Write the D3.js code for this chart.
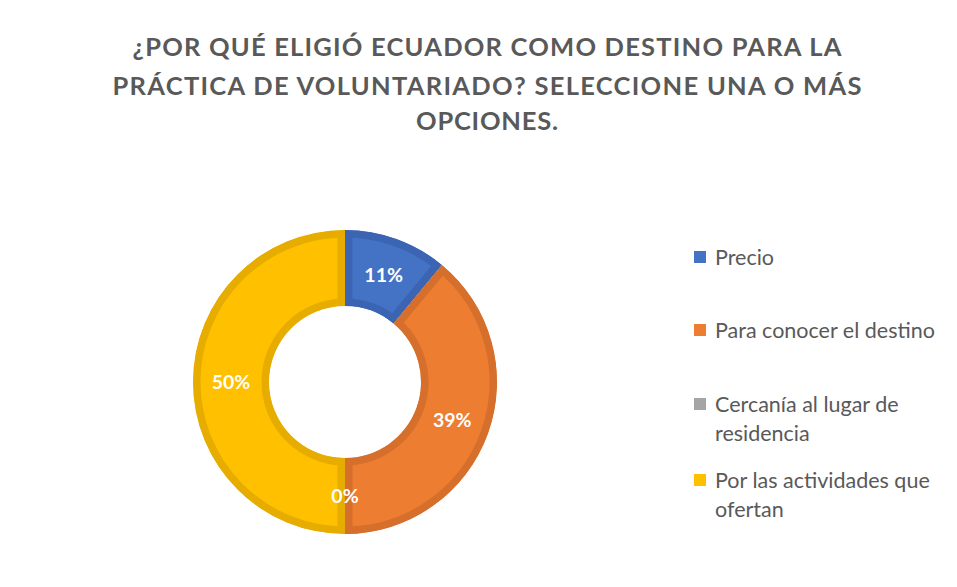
<!DOCTYPE html>
<html><head><meta charset="utf-8">
<script src="https://cdn.jsdelivr.net/npm/d3@7"></script>
<style>body{margin:0;background:#fff}svg{display:block}</style>
</head><body>
<svg id="c" width="957" height="587"></svg>
<script>
const titleLines = ["¿POR QUÉ ELIGIÓ ECUADOR COMO DESTINO PARA LA", "PRÁCTICA DE VOLUNTARIADO? SELECCIONE UNA O MÁS", "OPCIONES."];
const categories = ["Precio", "Para conocer el destino", "Cercanía al lugar de residencia", "Por las actividades que ofertan"];
const legendLines = [["Precio"], ["Para conocer el destino"], ["Cercanía al lugar de", "residencia"], ["Por las actividades que", "ofertan"]];
const values = [11, 39, 0, 50];
const labels = ["11%", "39%", "0%", "50%"];
const fills = ["#4472C4", "#ED7D31", "#A5A5A5", "#FFC000"];
const borders = ["#3B65B3", "#D56F2B", "#949494", "#E6AC00"];

const svg = d3.select("#c");
const W = 957, H = 587;
svg.append("rect").attr("width", W).attr("height", H).attr("fill", "#fff");

// Title
const titleY = [47, 86, 121];
const titleW = [709, 749, 142];
svg.append("g").selectAll("text").data(titleLines).join("text")
  .attr("x", 487).attr("y", (d, i) => titleY[i] + 9)
  .attr("text-anchor", "middle")
  .attr("font-family", "Lato, 'Open Sans', sans-serif")
  .attr("font-weight", "bold").attr("font-size", 25.5)
  .attr("fill", "#595959")
  .attr("textLength", (d, i) => titleW[i]).attr("lengthAdjust", "spacing")
  .text(d => d);

// Donut
const cx = 345, cy = 382, R = 152, r = 76;
const pie = d3.pie().sort(null).value(d => d)(values);
const arc = d3.arc().innerRadius(r).outerRadius(R);
const g = svg.append("g").attr("transform", `translate(${cx},${cy})`);
const defs = svg.append("defs");
pie.forEach((p, i) => {
  defs.append("clipPath").attr("id", "clip" + i).append("path").attr("d", arc(p));
});
g.selectAll("path.slice").data(pie).join("path")
  .attr("class", "slice")
  .attr("d", arc)
  .attr("fill", (d, i) => fills[i])
  .attr("stroke", (d, i) => borders[i])
  .attr("stroke-width", d => d.endAngle > d.startAngle ? 15 : 0)
  .attr("stroke-linejoin", "miter")
  .attr("clip-path", (d, i) => `url(#clip${i})`);

const labelArc = d3.arc().innerRadius((r + R) / 2).outerRadius((r + R) / 2);
g.selectAll("text.lbl").data(pie).join("text")
  .attr("class", "lbl")
  .attr("transform", d => `translate(${labelArc.centroid(d)})`)
  .attr("text-anchor", "middle").attr("dy", "0.35em")
  .attr("font-family", "Lato, 'Open Sans', sans-serif")
  .attr("font-weight", "bold").attr("font-size", 19.5)
  .attr("fill", "#fff")
  .text((d, i) => labels[i]);

// Legend
const legY = [257, 330, 404, 480];
const lg = svg.append("g");
categories.forEach((c, i) => {
  lg.append("rect").attr("x", 694).attr("y", legY[i] - 6).attr("width", 12).attr("height", 12)
    .attr("fill", fills[i]);
  legendLines[i].forEach((t, j) => {
    lg.append("text").attr("x", 715).attr("y", legY[i] + j * 29).attr("dy", "0.35em")
      .attr("font-family", "Lato, 'Open Sans', sans-serif").attr("font-size", 21.5)
      .attr("fill", "#595959").text(t);
  });
});
</script>
</body></html>
